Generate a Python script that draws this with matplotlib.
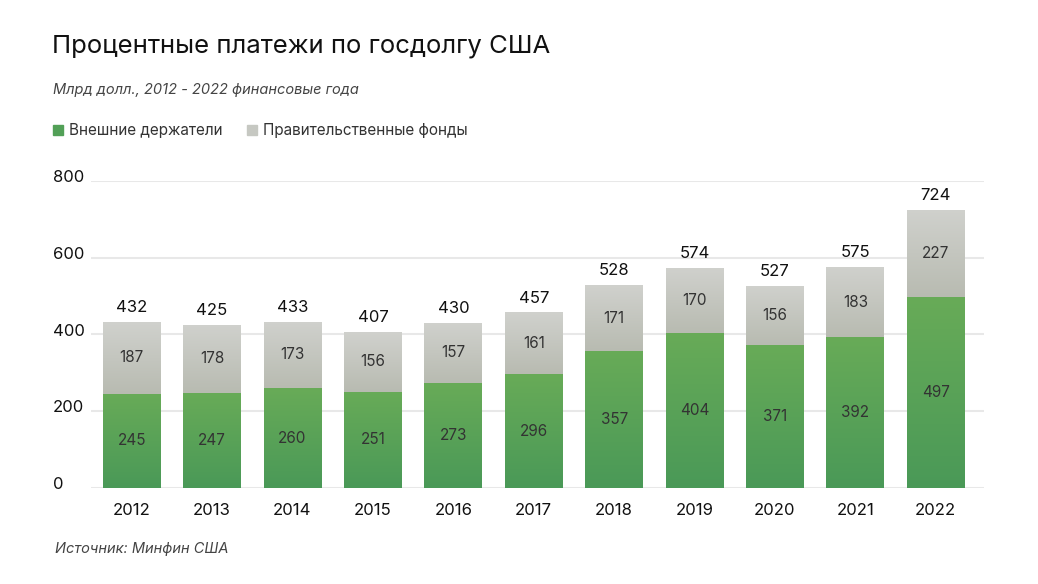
import numpy as np
import matplotlib
matplotlib.use('Agg')
import matplotlib.pyplot as plt
from matplotlib.colors import LinearSegmentedColormap
from matplotlib.patches import Rectangle
import matplotlib.transforms as mtransforms

plt.rcParams['font.family'] = ['Inter', 'DejaVu Sans']

years = ['2012', '2013', '2014', '2015', '2016', '2017', '2018', '2019', '2020', '2021', '2022']
external = [245, 247, 260, 251, 273, 296, 357, 404, 371, 392, 497]
govt = [187, 178, 173, 156, 157, 161, 171, 170, 156, 183, 227]
totals = [432, 425, 433, 407, 430, 457, 528, 574, 527, 575, 724]
yticks = [0, 200, 400, 600, 800]

green_cmap = LinearSegmentedColormap.from_list('g', ['#4a9958', '#68ab57'])
grey_cmap = LinearSegmentedColormap.from_list('s', ['#b8bbb1', '#d0d1cd'])
grad = np.linspace(0, 1, 256).reshape(-1, 1)

fig = plt.figure(figsize=(10.38, 5.84), dpi=100)
ax = fig.add_axes([91/1038, 1-488/584, 893/1038, (488-180.7)/584])

x = np.arange(len(years))
w = 0.72
b1 = ax.bar(x, external, width=w, color='none', edgecolor='none')
b2 = ax.bar(x, govt, width=w, bottom=external, color='none', edgecolor='none')

# gradient fill clipped to each bar
for bars, cmap in [(b1, green_cmap), (b2, grey_cmap)]:
  for bar in bars:
    x0, y0 = bar.get_x(), bar.get_y()
    im = ax.imshow(grad, extent=[x0, x0 + bar.get_width(), y0, y0 + bar.get_height()],
                   origin='lower', aspect='auto', cmap=cmap, zorder=2, interpolation='bicubic')
    im.set_clip_path(bar)

for i in range(len(years)):
  ax.text(x[i], external[i] / 2, str(external[i]), ha='center', va='center', fontsize=11, color='#333333', zorder=3)
  ax.text(x[i], external[i] + govt[i] / 2, str(govt[i]), ha='center', va='center', fontsize=11, color='#333333', zorder=3)
  ax.annotate(str(totals[i]), (x[i], totals[i]), xytext=(0, 5), textcoords='offset points',
              ha='center', va='bottom', fontsize=12, color='#111111', zorder=3, annotation_clip=False)

ax.set_xlim(-0.506, 10.6)
ax.set_ylim(0, 800)
for t in yticks:
  ax.axhline(t, color='#e8e8e8', lw=1.5, zorder=1)
trans = mtransforms.blended_transform_factory(fig.transFigure, ax.transData)
for t in yticks:
  ax.annotate(str(t), (53/1038, t), xycoords=trans, xytext=(0, -3), textcoords='offset points',
              ha='left', va='bottom', fontsize=12, color='#111111', annotation_clip=False)

ax.set_yticks([])
ax.set_xticks(x)
ax.set_xticklabels(years, fontsize=12, color='#111111')
ax.tick_params(axis='x', length=0, pad=11)
for s in ax.spines.values():
  s.set_visible(False)

fig.text(52/1038, 1-46/584, 'Процентные платежи по госдолгу США', fontsize=18.5, color='#111111', va='center', ha='left')
fig.text(53/1038, 1-90/584, 'Млрд долл., 2012 - 2022 финансовые года', fontsize=10.5, style='italic', color='#444444', va='center')
fig.patches.append(Rectangle((53/1038, 1-135/584), 10/1038, 10/584, transform=fig.transFigure, color='#52a057'))
fig.text(69/1038, 1-130/584, 'Внешние держатели', fontsize=11, color='#333333', va='center')
fig.patches.append(Rectangle((247/1038, 1-135/584), 10/1038, 10/584, transform=fig.transFigure, color='#c6c8c2'))
fig.text(263/1038, 1-130/584, 'Правительственные фонды', fontsize=11, color='#333333', va='center')
fig.text(55/1038, 1-549/584, 'Источник: Минфин США', fontsize=10.5, style='italic', color='#444444', va='center')

plt.savefig('out.png', dpi=100)
